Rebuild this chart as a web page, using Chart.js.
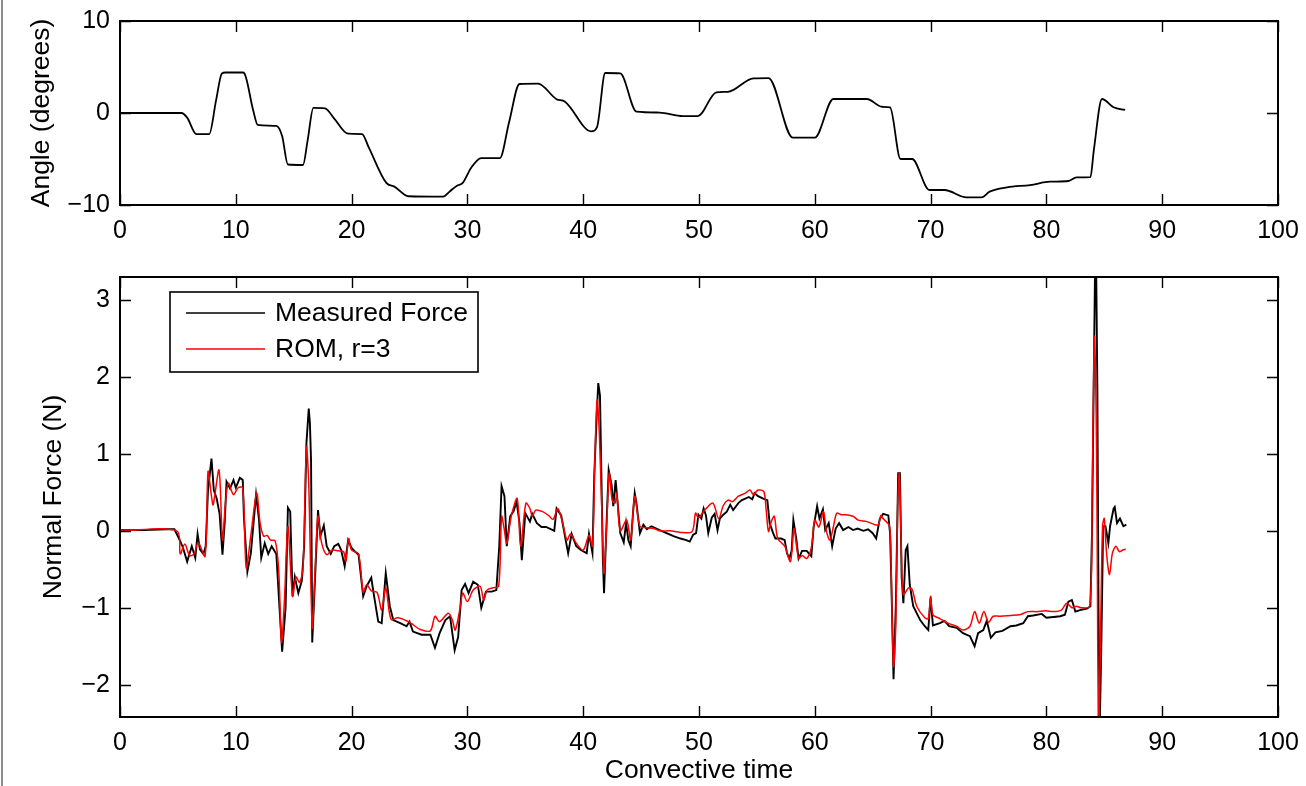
<!DOCTYPE html>
<html>
<head>
<meta charset="utf-8">
<title>Angle and normal force</title>
<script src="https://cdn.jsdelivr.net/npm/chart.js"></script>
<style>
	html, body { margin: 0; padding: 0; background: #fff; }
	#page { position: relative; width: 1306px; height: 786px; overflow: hidden; background: #fff; }
	#edge { position: absolute; left: 1px; top: 0; width: 2px; height: 786px; background: #8c8c8c; }
	#angleCanvas { position: absolute; left: 0; top: 0; }
	#forceCanvas { position: absolute; left: 0; top: 250px; }
</style>
</head>
<body>
<div id="page">
	<div id="edge"></div>
	<canvas id="angleCanvas" width="1306" height="250"></canvas>
	<canvas id="forceCanvas" width="1306" height="536"></canvas>
</div>
<script>
// plate angle
var angleTime = [0, 5.3, 5.8, 6.6, 7.7, 8.3, 8.8, 9.1, 10.6, 10.75, 11.5, 11.9, 13.5, 14.0, 14.5, 15.8, 16.2, 16.7, 17.7, 18.5, 19.7, 20.9, 21.5, 23.0, 23.7, 24.9, 27.9, 28.5, 29.1, 29.6, 30.3, 31.2, 32.8, 33.6, 34.5, 36.1, 37.7, 38.4, 40.7, 41.2, 41.9, 43.2, 44.6, 46.6, 48.6, 49.9, 51.5, 52.5, 54.7, 56.0, 58.1, 60.0, 61.6, 64.5, 65.8, 66.5, 67.4, 68.4, 69.9, 71.2, 73.1, 74.4, 75.1, 76.6, 78.6, 80.3, 81.9, 82.6, 83.8, 84.1, 84.8, 85.8, 86.8];
var angleDeg = [0, 0, -0.5, -2.3, -2.3, 1.4, 4.3, 4.4, 4.4, 4.3, 0.3, -1.3, -1.4, -2.5, -5.6, -5.65, -3.0, 0.55, 0.5, -0.6, -2.25, -2.3, -3.8, -7.6, -8.0, -9.05, -9.1, -8.5, -7.9, -7.6, -6.0, -4.9, -4.9, -1.0, 3.15, 3.2, 1.5, 1.25, -2.0, -1.5, 4.35, 4.3, 0.15, 0.05, -0.33, -0.33, 2.25, 2.3, 3.77, 3.8, -2.68, -2.68, 1.52, 1.52, 0.68, 0.6, -5.0, -5.0, -8.37, -8.37, -9.17, -9.17, -8.55, -8.08, -7.83, -7.47, -7.39, -7.0, -6.98, -4.0, 1.52, 0.62, 0.33];

// measured normal force
var forceTime = [0, 2, 4.0, 4.7, 5.0, 5.4, 5.8, 6.2, 6.5, 6.7, 6.9, 7.2, 7.4, 7.6, 7.9, 8.1, 8.35, 8.6, 8.85, 9.05, 9.2, 9.5, 9.8, 10.0, 10.35, 10.6, 10.7, 11.0, 11.3, 11.75, 12.0, 12.2, 12.5, 12.8, 13.1, 13.5, 13.8, 14.0, 14.3, 14.5, 14.7, 14.9, 15.1, 15.4, 15.7, 15.9, 16.1, 16.3, 16.4, 16.5, 16.6, 16.85, 17.1, 17.3, 17.6, 17.85, 18.2, 18.5, 18.85, 19.1, 19.4, 19.7, 20.0, 20.3, 20.6, 21.0, 21.3, 21.7, 21.9, 22.3, 22.6, 22.95, 23.3, 23.6, 24.2, 24.75, 25.0, 25.3, 26.05, 26.8, 27.2, 27.6, 28.1, 28.5, 28.9, 29.2, 29.5, 29.8, 30.1, 30.5, 30.9, 31.2, 31.6, 32.1, 32.5, 32.75, 32.95, 33.2, 33.4, 33.7, 34.0, 34.25, 34.5, 34.7, 35.0, 35.4, 35.6, 36.0, 36.4, 36.8, 37.5, 37.7, 38.1, 38.4, 38.7, 39.0, 39.4, 39.8, 40.3, 40.5, 40.8, 40.95, 41.15, 41.3, 41.45, 41.7, 41.8, 42.05, 42.2, 42.45, 42.6, 42.8, 43.0, 43.2, 43.5, 43.7, 43.9, 44.1, 44.3, 44.45, 44.6, 44.9, 45.2, 45.5, 45.9, 46.6, 47.2, 47.8, 48.4, 48.9, 49.2, 49.5, 49.75, 49.95, 50.2, 50.4, 50.6, 50.8, 51.1, 51.35, 51.6, 51.8, 52.1, 52.4, 52.7, 52.95, 53.4, 53.7, 54.0, 54.3, 54.6, 54.8, 55.1, 55.55, 55.9, 56.1, 56.4, 56.6, 57.1, 57.4, 57.6, 57.8, 58.0, 58.15, 58.4, 58.6, 58.9, 59.3, 59.7, 59.9, 60.2, 60.4, 60.7, 60.9, 61.2, 61.5, 61.8, 62.1, 62.45, 62.9, 63.3, 63.7, 64.2, 64.6, 65.0, 65.3, 65.6, 65.9, 66.35, 66.5, 66.6, 66.8, 67.0, 67.2, 67.35, 67.5, 67.65, 67.85, 68.0, 68.2, 68.5, 69.1, 69.5, 69.8, 70.0, 70.2, 70.8, 71.2, 71.6, 72.25, 72.8, 73.4, 73.8, 74.1, 74.55, 74.85, 75.2, 75.6, 76.2, 76.9, 77.4, 78.0, 78.4, 78.85, 79.6, 80.0, 80.6, 81.2, 81.6, 81.9, 82.2, 82.5, 82.9, 83.5, 83.8, 83.95, 84.05, 84.2, 84.3, 84.4, 84.5, 84.6, 84.75, 84.9, 85.1, 85.35, 85.5, 85.8, 85.9, 86.1, 86.35, 86.65, 86.9];
var forceMeasured = [0.01, 0.01, 0.02, 0.02, -0.07, -0.2, -0.40, -0.2, -0.35, -0.04, -0.24, -0.3, -0.2, 0.53, 0.94, 0.53, 0.42, 0.22, -0.31, 0.13, 0.64, 0.55, 0.66, 0.56, 0.69, 0.66, 0.18, -0.53, -0.29, 0.47, 0.15, -0.35, -0.16, -0.3, -0.2, -0.3, -1.07, -1.57, -1.0, 0.30, 0.25, -0.85, -0.6, -0.81, -0.65, -0.2, 1.14, 1.59, 1.4, 0.9, -1.45, -0.6, 0.27, -0.07, 0.07, -0.2, -0.3, -0.2, -0.17, -0.25, -0.46, -0.12, -0.22, -0.27, -0.31, -0.85, -0.72, -0.61, -0.81, -1.18, -1.2, -0.55, -0.98, -1.16, -1.2, -1.24, -1.18, -1.31, -1.35, -1.35, -1.52, -1.33, -1.16, -1.11, -1.55, -1.38, -0.77, -0.69, -0.81, -0.66, -0.7, -1.0, -0.79, -0.79, -0.77, -0.2, 0.58, 0.45, -0.2, 0.19, 0.26, 0.38, 0.1, -0.38, 0.23, 0.12, 0.22, 0.1, 0.05, 0.05, 0.0, 0.29, 0.2, -0.05, -0.29, -0.04, -0.2, -0.25, -0.29, -0.04, -0.29, 0.7, 1.44, 1.92, 1.76, -0.38, -0.81, 0.23, 0.79, 0.6, 0.32, 0.66, 0.32, -0.03, -0.15, 0.1, -0.12, -0.2, 0.23, 0.49, 0.36, -0.03, 0.08, 0.02, 0.06, 0.01, -0.03, -0.07, -0.1, -0.12, -0.14, -0.05, -0.03, 0.21, 0.16, 0.29, 0.2, -0.03, 0.17, 0.22, 0.01, 0.16, 0.21, 0.25, 0.34, 0.27, 0.36, 0.4, 0.42, 0.44, 0.41, 0.49, 0.45, 0.42, 0.4, 0.1, -0.03, -0.1, -0.1, -0.12, -0.29, -0.36, -0.26, 0.14, -0.1, -0.36, -0.26, -0.26, -0.33, 0.05, 0.32, 0.16, 0.28, 0.01, 0.1, -0.2, 0.03, 0.1, 0.01, 0.05, 0.01, 0.03, 0.0, 0.02, -0.03, -0.1, 0.15, 0.22, 0.2, -0.04, -0.6, -1.93, -0.95, 0.75, 0.75, -0.6, -0.94, -0.25, -0.2, -0.7, -0.98, -1.16, -1.24, -1.29, -0.87, -1.23, -1.2, -1.17, -1.24, -1.26, -1.33, -1.37, -1.5, -1.33, -1.29, -1.17, -1.39, -1.32, -1.3, -1.24, -1.23, -1.2, -1.11, -1.1, -1.08, -1.13, -1.12, -1.11, -1.09, -0.92, -0.9, -1.05, -1.03, -1.01, -0.98, 0.06, 1.44, 3.4, 3.4, 1.87, -0.98, -2.6, -1.42, 0.06, 0.06, -0.16, 0.06, 0.29, 0.31, 0.1, 0.16, 0.06, 0.08];

// reduced-order model, r = 3
var romTime = [0, 4.9, 5.2, 5.6, 6.0, 6.4, 6.75, 7.35, 7.6, 7.9, 8.05, 8.55, 8.85, 9.1, 9.35, 9.8, 10.2, 10.6, 10.9, 11.3, 11.8, 12.1, 12.4, 12.7, 13.0, 13.4, 13.7, 13.95, 14.2, 14.5, 14.9, 15.2, 15.5, 15.8, 16.1, 16.3, 16.6, 16.85, 17.1, 17.4, 17.85, 18.3, 18.85, 19.3, 19.5, 19.75, 20.0, 20.6, 21.0, 21.3, 21.7, 22.2, 22.6, 22.95, 23.4, 24.0, 24.9, 25.3, 25.9, 26.8, 27.2, 27.6, 28.35, 28.7, 28.95, 29.4, 29.6, 30.0, 30.5, 31.1, 31.4, 31.7, 32.2, 32.7, 32.95, 33.15, 33.4, 33.8, 34.3, 34.6, 35.05, 35.4, 35.6, 35.9, 36.5, 37.0, 37.4, 37.8, 38.2, 38.6, 38.9, 39.4, 40.0, 40.5, 40.8, 41.0, 41.2, 41.4, 41.7, 41.8, 42.05, 42.25, 42.5, 42.75, 42.9, 43.2, 43.75, 44.1, 44.45, 44.9, 45.5, 46.1, 46.6, 47.5, 48.4, 49.4, 49.7, 49.95, 50.5, 51.2, 51.7, 52.1, 52.5, 52.9, 53.4, 54.0, 54.4, 54.7, 55.1, 55.6, 55.8, 56.0, 56.2, 56.5, 56.8, 57.4, 57.9, 58.2, 58.6, 58.9, 59.3, 59.7, 60.0, 60.35, 60.75, 61.0, 61.3, 61.6, 61.9, 62.3, 62.7, 63.3, 63.75, 64.5, 65.2, 65.5, 65.7, 65.9, 66.45, 66.6, 66.8, 67.0, 67.15, 67.3, 67.5, 67.65, 68.1, 68.4, 68.8, 69.5, 69.8, 70.0, 70.2, 70.8, 71.5, 72.25, 72.8, 73.4, 73.8, 74.2, 74.6, 75.0, 75.4, 76.0, 76.9, 77.7, 78.4, 79.2, 79.9, 80.6, 81.3, 81.75, 82.2, 82.6, 83.0, 83.75, 83.95, 84.15, 84.3, 84.4, 84.5, 84.65, 84.85, 85.0, 85.2, 85.45, 85.7, 86.0, 86.3, 86.6, 86.85];
var forceRom = [0, 0, -0.30, -0.17, -0.32, -0.30, -0.15, -0.33, 0.77, 0.45, 0.34, 0.79, -0.12, 0.35, 0.62, 0.47, 0.56, 0.56, -0.48, -0.06, 0.49, 0.1, -0.07, -0.06, -0.12, -0.13, -0.5, -1.45, -0.9, 0.06, -0.85, -0.6, -0.67, -0.5, 1.09, 0.6, -1.26, -0.5, 0.19, -0.15, -0.31, -0.25, -0.26, -0.27, -0.4, -0.1, -0.25, -0.3, -0.8, -0.7, -0.78, -0.8, -1.03, -0.74, -1.15, -1.13, -1.18, -1.22, -1.28, -1.3, -1.11, -1.18, -1.07, -1.16, -1.29, -0.98, -0.81, -0.92, -0.77, -0.72, -0.9, -0.77, -0.74, -0.72, 0.19, 0.05, -0.16, 0.2, 0.42, -0.2, 0.36, 0.29, 0.19, 0.27, 0.25, 0.2, 0.15, 0.29, 0.12, -0.12, -0.04, -0.16, -0.25, -0.06, -0.2, 0.88, 1.70, 1.24, -0.2, -0.55, 0.15, 0.75, 0.4, 0.36, 0.49, 0.0, 0.14, -0.12, 0.45, 0.06, 0.04, 0.03, 0.0, 0.0, -0.02, -0.01, 0.23, 0.17, 0.27, 0.36, 0.16, 0.33, 0.4, 0.38, 0.45, 0.49, 0.53, 0.47, 0.53, 0.51, 0.27, -0.01, 0.1, 0.19, -0.1, -0.2, -0.4, 0.03, -0.36, -0.32, -0.36, -0.22, 0.14, 0.05, 0.25, 0.0, -0.12, 0.05, 0.23, 0.21, 0.21, 0.19, 0.14, 0.12, 0.08, 0.08, 0.2, 0.16, 0.06, -0.6, -1.76, -1.2, 0.3, 0.75, -0.4, -0.83, -0.74, -0.76, -0.98, -1.13, -1.14, -0.85, -1.09, -1.14, -1.2, -1.24, -1.29, -1.24, -1.05, -1.2, -1.05, -1.19, -1.11, -1.11, -1.1, -1.09, -1.05, -1.05, -1.04, -1.05, -1.03, -0.94, -1.0, -0.98, -1.0, -0.98, 0.5, 2.52, 1.5, -0.5, -2.8, -1.6, 0.06, 0.16, -0.3, -0.57, -0.29, -0.2, -0.27, -0.25, -0.24];

var xTicksMin = 0, xTicksMax = 100, xStep = 10;

Chart.defaults.font.family = '"Liberation Sans", Arial, Helvetica, sans-serif';
Chart.defaults.color = '#000';

function toPoints(xs, ys) {
	var pts = [];
	for (var i = 0; i < xs.length; i++) {
		pts.push({ x: xs[i], y: ys[i] });
	}
	return pts;
}

function minusSign(v) {
	return String(v).replace('-', '\u2212');
}

// box round the plot area with inward ticks on all four sides
var boxTicks = {
	id: 'boxTicks',
	afterDraw: function (chart) {
		var ctx = chart.ctx;
		var a = chart.chartArea;
		var xs = chart.scales.x;
		var ys = chart.scales.y;
		var len = 11;
		ctx.save();
		ctx.strokeStyle = '#000';
		ctx.lineWidth = 1.4;
		ctx.beginPath();
		xs.ticks.forEach(function (t) {
			var p = Math.round(xs.getPixelForValue(t.value)) + 0.5;
			ctx.moveTo(p, a.bottom);
			ctx.lineTo(p, a.bottom - len);
			ctx.moveTo(p, a.top);
			ctx.lineTo(p, a.top + len);
		});
		ys.ticks.forEach(function (t) {
			var p = Math.round(ys.getPixelForValue(t.value)) + 0.5;
			ctx.moveTo(a.left, p);
			ctx.lineTo(a.left + len, p);
			ctx.moveTo(a.right, p);
			ctx.lineTo(a.right - len, p);
		});
		ctx.stroke();
		ctx.lineWidth = 2;
		ctx.strokeRect(a.left, a.top, a.right - a.left, a.bottom - a.top);
		ctx.restore();
	}
};

// legend box in the upper left of the force plot
var boxLegend = {
	id: 'boxLegend',
	afterDraw: function (chart) {
		if (chart.canvas.id !== 'forceCanvas') return;
		var ctx = chart.ctx;
		var a = chart.chartArea;
		var bx = a.left + 50, by = a.top + 15, bw = 308, bh = 80;
		ctx.save();
		ctx.fillStyle = '#fff';
		ctx.fillRect(bx, by, bw, bh);
		ctx.strokeStyle = '#000';
		ctx.lineWidth = 1.6;
		ctx.strokeRect(bx, by, bw, bh);
		ctx.font = '26.5px "Liberation Sans", Arial, Helvetica, sans-serif';
		ctx.textBaseline = 'middle';
		ctx.textAlign = 'left';
		chart.data.datasets.forEach(function (ds, i) {
			var yy = by + 21 + i * 36;
			ctx.strokeStyle = ds.borderColor;
			ctx.lineWidth = 1.5;
			ctx.beginPath();
			ctx.moveTo(bx + 16, yy);
			ctx.lineTo(bx + 95, yy);
			ctx.stroke();
			ctx.fillStyle = '#000';
			ctx.fillText(ds.label, bx + 105, yy + 1);
		});
		ctx.restore();
	}
};

function baseOptions(yMin, yMax, yStep, xTitle, yTitle, yTitlePad, padTop, xHeight) {
	return {
		responsive: false,
		animation: false,
		events: [],
		layout: { padding: { top: padTop, right: 28, bottom: 0, left: 0 } },
		plugins: { legend: { display: false }, tooltip: { enabled: false } },
		elements: { point: { radius: 0 } },
		scales: {
			x: {
				type: 'linear',
				min: xTicksMin,
				max: xTicksMax,
				grid: { display: false, drawTicks: false },
				border: { display: false },
				ticks: { stepSize: xStep, padding: 11, maxRotation: 0, font: { size: 25 }, color: '#000' },
				title: { display: xTitle !== '', text: xTitle, font: { size: 26.5, lineHeight: 1 }, padding: { top: 0, bottom: 2 }, color: '#000' },
				afterFit: function (s) {
					s.height = xHeight;
					s.paddingLeft = 0;
					s.paddingRight = 0;
				}
			},
			y: {
				type: 'linear',
				min: yMin,
				max: yMax,
				grid: { display: false, drawTicks: false },
				border: { display: false },
				ticks: { stepSize: yStep, padding: 10, includeBounds: false, font: { size: 25 }, color: '#000', callback: minusSign },
				title: { display: true, text: yTitle, font: { size: 26.5, lineHeight: 1 }, padding: { top: yTitlePad, bottom: 0 }, color: '#000' },
				afterFit: function (s) {
					s.width = 120;
					s.paddingTop = 0;
					s.paddingBottom = 0;
				}
			}
		}
	};
}

var angleChart = new Chart(document.getElementById('angleCanvas'), {
	type: 'line',
	data: {
		datasets: [
			{
				label: 'Angle',
				data: toPoints(angleTime, angleDeg),
				borderColor: '#000',
				borderWidth: 1.8,
				fill: false,
				cubicInterpolationMode: 'monotone'
			}
		]
	},
	options: baseOptions(-10, 10, 10, '', 'Angle (degrees)', 28, 21, 45),
	plugins: [boxTicks]
});

var forceChart = new Chart(document.getElementById('forceCanvas'), {
	type: 'line',
	data: {
		datasets: [
			{
				label: 'Measured Force',
				data: toPoints(forceTime, forceMeasured),
				borderColor: '#000',
				borderWidth: 1.9,
				fill: false,
				tension: 0,
				order: 1
			},
			{
				label: 'ROM, r=3',
				data: toPoints(romTime, forceRom),
				borderColor: '#ff0000',
				borderWidth: 1.5,
				fill: false,
				tension: 0.3,
				order: 0
			}
		]
	},
	options: baseOptions(-2.42, 3.3, 1, 'Convective time', 'Normal Force (N)', 40, 27, 69),
	plugins: [boxTicks, boxLegend]
});
</script>
</body>
</html>
